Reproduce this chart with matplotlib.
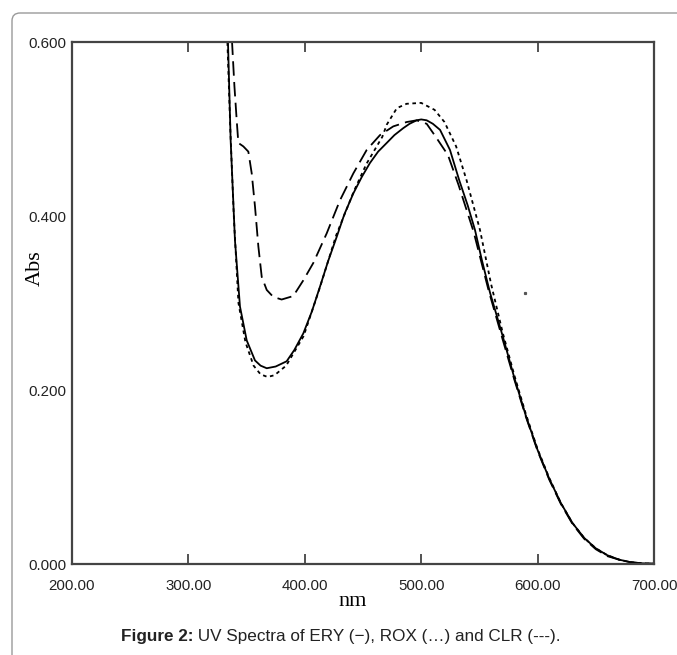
import matplotlib
matplotlib.use("Agg")
import matplotlib.pyplot as plt
from matplotlib.patches import FancyBboxPatch
import numpy as np

# ERY (solid)
ery_nm = [332, 334, 336.3, 340, 344.3, 350.1, 357.2, 362, 367.3, 375, 384.4, 391, 398.7,
          406, 413.1, 420, 427.4, 434, 441.7, 449, 456.0, 463, 470.4, 477, 484.6, 490,
          496.1, 500, 504.7, 510, 516.2, 524.7, 532.7, 540, 546.2, 552, 559.1, 565,
          570, 580, 590, 600, 610, 620, 630, 640, 650, 660, 670, 680, 690, 700]
ery_abs = [0.66, 0.60, 0.487, 0.372, 0.296, 0.257, 0.234, 0.228, 0.225, 0.227, 0.233, 0.246,
           0.265, 0.290, 0.319, 0.348, 0.376, 0.402, 0.426, 0.445, 0.461, 0.474, 0.484,
           0.493, 0.501, 0.506, 0.510, 0.511, 0.510, 0.506, 0.499, 0.476, 0.441, 0.412,
           0.384, 0.350, 0.312, 0.285, 0.262, 0.214, 0.170, 0.131, 0.098, 0.070, 0.047,
           0.030, 0.018, 0.010, 0.005, 0.002, 0.0008, 0.0003]

# ROX (dotted)
rox_nm = [331.5, 333.5, 336, 339, 343, 349, 356, 362, 368, 374, 384, 399, 413, 427, 442,
          453, 466.6, 470.4, 479.1, 487.5, 500, 511.5, 520, 530, 539, 550.5, 560, 570,
          580, 590, 600, 610, 620, 630, 640, 650, 660, 670, 680, 690, 700]
rox_abs = [0.66, 0.60, 0.50, 0.40, 0.30, 0.255, 0.228, 0.218, 0.215, 0.217, 0.228, 0.262,
           0.318, 0.378, 0.428, 0.460, 0.491, 0.505, 0.524, 0.529, 0.530, 0.522, 0.508,
           0.480, 0.441, 0.384, 0.322, 0.266, 0.217, 0.172, 0.132, 0.099, 0.070, 0.047,
           0.030, 0.018, 0.010, 0.005, 0.002, 0.0008, 0.0003]

# CLR (dashed)
clr_nm = [336.5, 337.5, 339.5, 341.5, 342.9, 347.2, 351.5, 354.4, 357.2, 360.1, 363.0,
          367.3, 372.9, 380.1, 390.1, 398.7, 407.3, 418.8, 430.2, 441.7, 453.2, 464.6,
          476.0, 487.5, 496.1, 504.7, 512, 523, 532, 545, 558, 570, 580, 590, 600, 610,
          620, 630, 640, 650, 660, 670, 680, 690, 700]
clr_abs = [0.66, 0.60, 0.55, 0.51, 0.484, 0.480, 0.474, 0.449, 0.411, 0.365, 0.330, 0.315,
           0.307, 0.304, 0.308, 0.326, 0.346, 0.380, 0.418, 0.449, 0.476, 0.493, 0.503,
           0.508, 0.510, 0.506, 0.492, 0.470, 0.436, 0.382, 0.314, 0.258, 0.212, 0.169,
           0.130, 0.097, 0.069, 0.046, 0.029, 0.017, 0.009, 0.005, 0.002, 0.0008, 0.0003]

# stray instrument point
stray_nm = [589]
stray_abs = [0.312]

x_ticks = [200, 300, 400, 500, 600, 700]
y_ticks = [0.0, 0.2, 0.4, 0.6]
caption_bold = "Figure 2:"
caption_rest = " UV Spectra of ERY (\u2212), ROX (\u2026) and CLR (---)."

W, H = 677, 655
fig = plt.figure(figsize=(W / 100, H / 100), dpi=100)

# outer rounded frame (only left/top visible)
frame = FancyBboxPatch((12 / W, -0.2), 1.2, (H - 13) / H + 0.2,
                       boxstyle="round,pad=0,rounding_size=0.012",
                       transform=fig.transFigure, fill=False,
                       edgecolor="#9a9a9a", linewidth=1.0, clip_on=False)
fig.patches.append(frame)

ax_l, ax_r, ax_t, ax_b = 72, 654, 42, 564
ax = fig.add_axes([ax_l / W, 1 - ax_b / H, (ax_r - ax_l) / W, (ax_b - ax_t) / H])
ax.plot(ery_nm, ery_abs, color="black", linewidth=1.3, linestyle="-")
ax.plot(rox_nm, rox_abs, color="black", linewidth=1.3, linestyle=(0, (2.0, 2.0)))
ax.plot(clr_nm, clr_abs, color="black", linewidth=1.3, linestyle=(0, (8.0, 3.5)))
ax.plot(stray_nm, stray_abs, linestyle="none", marker="s", markersize=1.3,
        color="#555555")

ax.set_xlim(200, 700)
ax.set_ylim(0, 0.6)
ax.set_xticks(x_ticks)
ax.set_yticks(y_ticks)
ax.set_xticklabels([f"{v:.2f}" for v in x_ticks])
ax.set_yticklabels([f"{v:.3f}" for v in y_ticks])
for s in ax.spines.values():
    s.set_color("#444444")
    s.set_linewidth(1.6)
ax.tick_params(axis="x", direction="in", top=True, bottom=True, length=7, width=1.3,
               color="#444444", pad=11, labelsize=10.8)
ax.tick_params(axis="y", direction="in", left=True, length=0, width=0, pad=4,
               labelsize=10.8)
for lab in ax.get_xticklabels() + ax.get_yticklabels():
    lab.set_fontfamily(["Liberation Sans", "DejaVu Sans"])
    lab.set_color("#222222")

ax.set_xlabel("nm", fontfamily=["Liberation Serif", "DejaVu Serif"], fontsize=16)
ax.xaxis.label.set_va("center")
ax.xaxis.set_label_coords(0.483, -(601 - ax_b) / (ax_b - ax_t))
ax.set_ylabel("Abs", fontfamily=["Liberation Serif", "DejaVu Serif"], fontsize=16)
ax.yaxis.label.set_va("center")
ax.yaxis.set_label_coords(-(ax_l - 35) / (ax_r - ax_l), (ax_b - 268) / (ax_b - ax_t))

# caption
cap_y = 1 - 637 / H
fam = ["Liberation Sans", "DejaVu Sans"]
cap_fs = 12.3
t1 = fig.text(0.5, cap_y, caption_bold + caption_rest, ha="center", va="center",
              fontsize=cap_fs, fontfamily=fam, color="white")
fig.canvas.draw()
bb = t1.get_window_extent()
t1.remove()
x0 = bb.x0 / W
tb = fig.text(x0, cap_y, caption_bold, ha="left", va="center", fontsize=cap_fs,
              fontweight="bold", fontfamily=fam, color="#222222")
fig.canvas.draw()
bb2 = tb.get_window_extent()
fig.text(bb2.x1 / W, cap_y, caption_rest, ha="left", va="center", fontsize=cap_fs,
         fontfamily=fam, color="#222222")

fig.savefig("out.png", dpi=100)
